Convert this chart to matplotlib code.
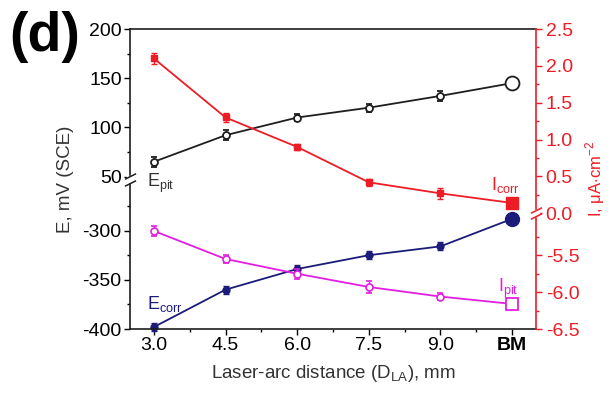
import matplotlib
matplotlib.use("Agg")
import matplotlib.pyplot as plt
import matplotlib.transforms as mtransforms
import numpy as np

plt.rcParams['font.family'] = ['Liberation Sans', 'DejaVu Sans']
plt.rcParams['mathtext.fontset'] = 'custom'
plt.rcParams['mathtext.rm'] = 'Liberation Sans'

# data
x_labels = ['3.0', '4.5', '6.0', '7.5', '9.0', 'BM']
x_pos = [3.0, 4.5, 6.0, 7.5, 9.0, 10.5]

e_pit = [65, 92, 110, 120, 132, 145]          # mV (SCE)
e_pit_err = [5, 5, 4, 4, 5, 0]
e_corr = [-398, -360, -339, -325, -316, -288]  # mV (SCE)
e_corr_err = [4, 4, 4, 4, 4, 0]
i_corr = [2.10, 1.30, 0.90, 0.42, 0.27, 0.14]  # uA/cm2
i_corr_err = [0.07, 0.06, 0.04, 0.05, 0.07, 0]
i_pit = [-5.17, -5.55, -5.75, -5.93, -6.06, -6.16]
i_pit_err = [0.07, 0.06, 0.07, 0.08, 0.05, 0]

# broken axes: lower segments are shifted up to sit below the break
L_SHIFT = 295.0
R_SHIFT = 4.93


def lt(v):
    v = np.asarray(v, dtype=float)
    return np.where(v >= 0, v, v + L_SHIFT)


def rt(v):
    v = np.asarray(v, dtype=float)
    return np.where(v >= -1, v, v + R_SHIFT)


BLACK = '#1e1e1e'
RED = '#ee1c25'
NAVY = '#1b1b7a'
MAGENTA = '#e31ee3'

TICK_FS = 14
LABEL_FS = 13.5

fig = plt.figure(figsize=(6.10, 3.94), dpi=100)
ax = fig.add_axes([130 / 610, 1 - 329 / 394, 406 / 610, 300 / 394])
ax2 = ax.twinx()

ms = 5
big = 10

# E_pit
ax.errorbar(x_pos[:-1], lt(e_pit[:-1]), yerr=e_pit_err[:-1], color=BLACK, marker='o',
            mfc='white', mec=BLACK, ms=ms, mew=1.3, capsize=2, elinewidth=1, lw=1.3)
ax.plot(x_pos[-2:], lt(e_pit[-2:]), color=BLACK, lw=1.3)
ax.plot(x_pos[-1], lt(e_pit[-1]), 'o', mfc='white', mec=BLACK, ms=big, mew=1.3, zorder=5)

# E_corr
ax.errorbar(x_pos[:-1], lt(e_corr[:-1]), yerr=e_corr_err[:-1], color=NAVY, marker='o',
            mfc=NAVY, mec=NAVY, ms=ms, capsize=2, elinewidth=1, lw=1.3, clip_on=False)
ax.plot(x_pos[-2:], lt(e_corr[-2:]), color=NAVY, lw=1.3)
ax.plot(x_pos[-1], lt(e_corr[-1]), 'o', color=NAVY, ms=big, zorder=5)

# I_corr
ax2.errorbar(x_pos[:-1], rt(i_corr[:-1]), yerr=i_corr_err[:-1], color=RED, marker='s',
             mfc=RED, mec=RED, ms=ms, capsize=2, elinewidth=1, lw=1.3)
ax2.plot(x_pos[-2:], rt(i_corr[-2:]), color=RED, lw=1.3)
ax2.plot(x_pos[-1], rt(i_corr[-1]), 's', color=RED, ms=9, zorder=5)

# I_pit
ax2.errorbar(x_pos[:-1], rt(i_pit[:-1]), yerr=i_pit_err[:-1], color=MAGENTA, marker='o',
             mfc='white', mec=MAGENTA, ms=ms, mew=1.2, capsize=2, elinewidth=1, lw=1.3)
ax2.plot(x_pos[-2:], rt(i_pit[-2:]), color=MAGENTA, lw=1.3)
ax2.plot(x_pos[-1], rt(i_pit[-1]), 's', mfc='white', mec=MAGENTA, ms=9, mew=1.3, zorder=5)

# axes limits and ticks
ax.set_xlim(2.5, 11.0)
ax.set_ylim(lt(-400), 200)
ax2.set_ylim(rt(-6.5), 2.5)

ax.set_xticks(x_pos)
ax.set_xticklabels(x_labels, fontsize=TICK_FS)
ax.get_xticklabels()[-1].set_fontweight('bold')
ax.set_xticks([3.75, 5.25, 6.75, 8.25, 9.75], minor=True)

l_major = [-400, -350, -300, 50, 100, 150, 200]
l_minor = [-375, -325, -275, 75, 125, 175]
ax.set_yticks(lt(l_major))
ax.set_yticklabels([str(v) for v in l_major], fontsize=TICK_FS)
ax.set_yticks(lt(l_minor), minor=True)

r_major = [-6.5, -6.0, -5.5, 0.0, 0.5, 1.0, 1.5, 2.0, 2.5]
r_minor = [-6.25, -5.75, -5.25, 0.25, 0.75, 1.25, 1.75, 2.25]
ax2.set_yticks(rt(r_major))
ax2.set_yticklabels(['%.1f' % v for v in r_major], fontsize=TICK_FS, color=RED)
ax2.set_yticks(rt(r_minor), minor=True)

ax.tick_params(which='major', direction='out', length=4, width=1, pad=2)
ax.tick_params(which='minor', direction='out', length=2.5, width=1)
ax2.tick_params(which='major', direction='out', length=4, width=1, colors=RED, pad=3)
ax2.tick_params(which='minor', direction='out', length=2.5, width=1, colors=RED)
ax.tick_params(axis='x', which='both', top=False)

for s in ['left', 'bottom', 'top']:
    ax2.spines[s].set_visible(False)
ax2.spines['right'].set_color(RED)
ax2.spines['right'].set_linewidth(1.2)
for s in ['left', 'bottom', 'top']:
    ax.spines[s].set_linewidth(1.2)
    ax.spines[s].set_color(BLACK)
ax.spines['right'].set_visible(False)

ax.set_xlabel(r'Laser-arc distance (D$_{\mathrm{LA}}$), mm', fontsize=LABEL_FS, labelpad=6,
              color='#333333')
ax.set_ylabel('E, mV (SCE)', fontsize=LABEL_FS, labelpad=6, color='#333333')
ax2.set_ylabel(r'I, $\mathrm{\mu}$A$\cdot$cm$^{-2}$', fontsize=12, color=RED, labelpad=3)

# break marks on the spines
def draw_break(axis, xa, yd, color):
    tr = mtransforms.blended_transform_factory(axis.transAxes, axis.transData)
    off = mtransforms.offset_copy(tr, fig=fig, y=2.2, units='points')
    off2 = mtransforms.offset_copy(tr, fig=fig, y=-2.2, units='points')
    axis.plot([xa], [yd], marker='s', ms=4, color='white', mec='white',
              transform=tr, clip_on=False, zorder=6)
    kw = dict(marker=[(-1, -0.5), (1, 0.5)], markersize=8, linestyle='none',
              color=color, mec=color, mew=1.1, clip_on=False, zorder=7)
    axis.plot([xa], [yd], transform=off, **kw)
    axis.plot([xa], [yd], transform=off2, **kw)


draw_break(ax, 0.0, 47, BLACK)
draw_break(ax2, 1.0, 0.0, RED)

# series labels
ax.text(2.86, 43, r'E$_{\mathrm{pit}}$', fontsize=13, color='#333333', va='center')
ax.text(2.86, -80, r'E$_{\mathrm{corr}}$', fontsize=13, color=NAVY, va='center')
ax2.text(10.35, 0.38, r'I$_{\mathrm{corr}}$', fontsize=13, color=RED, va='center', ha='center')
ax2.text(10.42, rt(-5.95), r'I$_{\mathrm{pit}}$', fontsize=13, color=MAGENTA, va='center', ha='center')

fig.text(0.015, 0.905, '(d)', fontsize=40, fontweight='bold', va='center')

fig.savefig('out.png', dpi=100)
